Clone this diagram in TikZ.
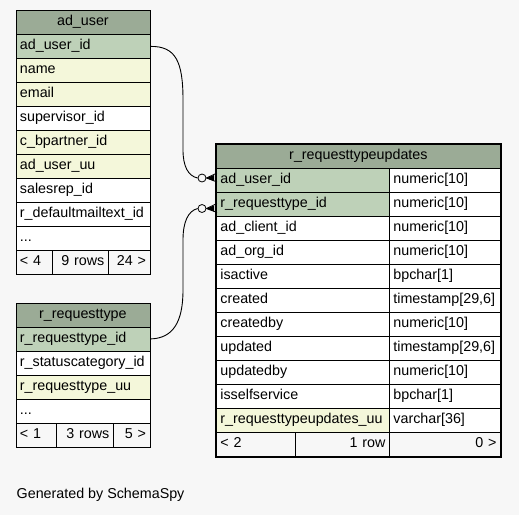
\documentclass[tikz,border=0pt]{standalone}
\usepackage{fontspec}
\setmainfont{Liberation Sans}
\usetikzlibrary{calc,positioning}
\definecolor{pagebg}{HTML}{F7F7F7}
\definecolor{headbg}{HTML}{9BAB96}
\definecolor{keybg}{HTML}{BED1B8}
\definecolor{idxbg}{HTML}{F4F7DA}
\newcommand{\moredots}{...}

\begin{document}
\begin{tikzpicture}[x=1pt, y=-1pt,
  every node/.style={font=\fontsize{14.3}{16}\selectfont},
  cell/.style={draw=black, line width=0.8pt, anchor=north west, inner xsep=4pt,
    inner ysep=5.5pt, text height=10pt, text depth=3pt, align=left},
  hdr/.style={cell, fill=headbg, align=center},
  keyrow/.style={cell, fill=keybg},
  idxrow/.style={cell, fill=idxbg},
  plainrow/.style={cell, fill=white},
  footrow/.style={cell, fill=pagebg},
  ring/.style={draw, circle, fill=pagebg, line width=0.8pt, minimum size=8pt, inner sep=0pt},
  rel/.style={line width=0.9pt}]
  \fill[pagebg] (0,0) rectangle (519,515);
  \useasboundingbox (0,0) rectangle (519,515);

  % ad_user
  \node[hdr, text width=126pt] (au-h) at (15.5,10) {ad\_user};
  \foreach \txt/\sty [count=\i] in {ad\_user\_id/keyrow, name/idxrow, email/idxrow,
      supervisor\_id/plainrow, c\_bpartner\_id/idxrow, ad\_user\_uu/idxrow,
      salesrep\_id/plainrow, r\_defaultmailtext\_id/plainrow, \moredots/plainrow}
    \node[\sty, text width=126pt] (au-\i) at (15.5,10+24*\i) {\txt};
  \node[footrow, text width=28.5pt] (auf-1) at (15.5,250) {< 4};
  \node[footrow, text width=48pt, align=right] (auf-2) at (52,250) {9 rows};
  \node[footrow, text width=33.5pt, align=right] (auf-3) at (108,250) {24 >};

  % r_requesttype
  \node[hdr, text width=126pt] (rt-h) at (15.5,302.5) {r\_requesttype};
  \foreach \txt/\sty [count=\i] in {r\_requesttype\_id/keyrow,
      r\_statuscategory\_id/plainrow, r\_requesttype\_uu/idxrow, \moredots/plainrow}
    \node[\sty, text width=126pt] (rt-\i) at (15.5,302.5+24*\i) {\txt};
  \node[footrow, text width=32.5pt] (rtf-1) at (15.5,422.5) {< 1};
  \node[footrow, text width=49pt, align=right] (rtf-2) at (56,422.5) {3 rows};
  \node[footrow, text width=28.5pt, align=right] (rtf-3) at (113,422.5) {5 >};

  % r_requesttypeupdates
  \node[hdr, text width=276pt] (ru-h) at (216,144) {r\_requesttypeupdates};
  \foreach \txt/\typ/\sty [count=\i] in {ad\_user\_id/numeric[10]/keyrow,
      r\_requesttype\_id/numeric[10]/keyrow, ad\_client\_id/numeric[10]/plainrow,
      ad\_org\_id/numeric[10]/plainrow, isactive/bpchar[1]/plainrow,
      created/{timestamp[29,6]}/plainrow, createdby/numeric[10]/plainrow,
      updated/{timestamp[29,6]}/plainrow, updatedby/numeric[10]/plainrow,
      isselfservice/bpchar[1]/plainrow, r\_requesttypeupdates\_uu/varchar[36]/idxrow} {
    \node[\sty, text width=165pt] (ru-\i) at (216,144+24*\i) {\txt};
    \node[plainrow, text width=103pt] (rut-\i) at (389,144+24*\i) {\typ};
  }
  \node[footrow, text width=71pt] (ruf-1) at (216,432) {< 2};
  \node[footrow, text width=86pt, align=right] (ruf-2) at (295,432) {1 row};
  \node[footrow, text width=103pt, align=right] (ruf-3) at (389,432) {0 >};
  \draw[line width=2.6pt] (ru-h.north west) rectangle (ruf-3.south east);

  % relations
  \node[ring] (o1) at (202,178) {};
  \node[ring] (o2) at (202,208.5) {};
  \draw[rel] (au-1.east) .. controls (176,46) and (183,62) .. (183,100)
    -- (183,150) .. controls (183,166) and (188,176) .. (o1.west);
  \draw[rel] (rt-1.east) .. controls (173,338.5) and (183,322) .. (183,290)
    -- (183,240) .. controls (183,222) and (188,211) .. (o2.west);
  \foreach \o/\r in {o1/ru-1, o2/ru-2} {
    \fill (\o.east) -- ($(\r.west |- \o)+(-2,-3)$) -- ($(\r.west |- \o)+(-2,3)$) -- cycle;
    \draw[line width=0.8pt] (\o.east) -- ($(\r.west |- \o)+(1,-5)$);
    \draw[line width=0.8pt] (\o.east) -- ($(\r.west |- \o)+(1,4)$);
  }

  \node[anchor=west, inner sep=0pt] (gen) at (16.5,495) {Generated by SchemaSpy};
\end{tikzpicture}
\end{document}
